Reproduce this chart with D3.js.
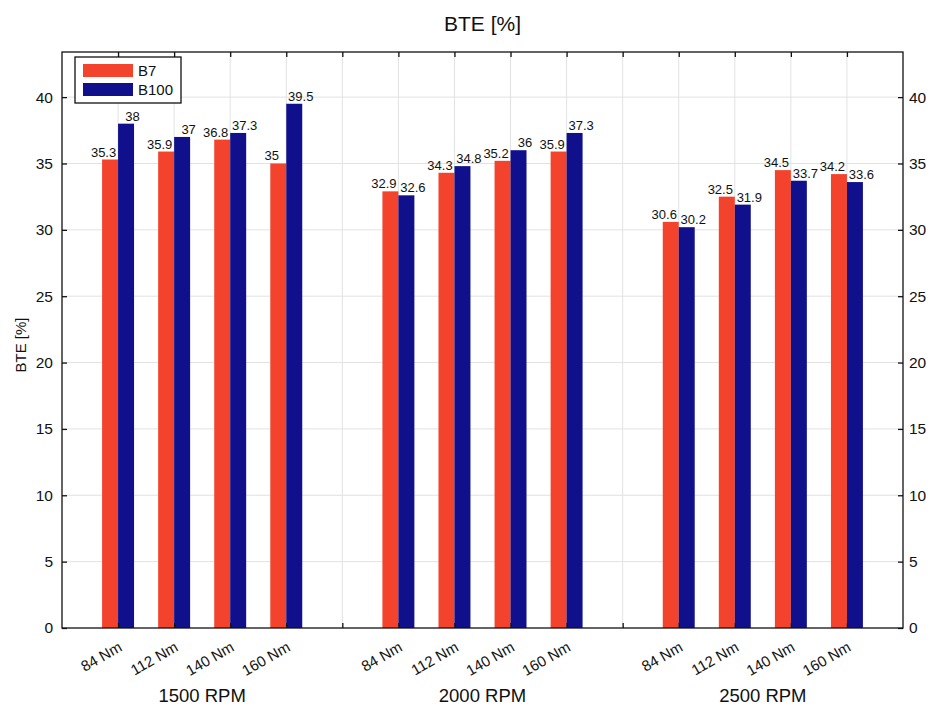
<!DOCTYPE html>
<html>
<head>
<meta charset="utf-8">
<script src="https://cdn.jsdelivr.net/npm/d3@7"></script>
<style>
  html, body { margin: 0; padding: 0; background: #fff; }
  svg { display: block; font-family: "Liberation Sans", Arial, Helvetica, sans-serif; }
</style>
</head>
<body>
<svg id="chart" width="933" height="706"></svg>
<script>
// Brake thermal efficiency per engine speed and load
const speeds = ["1500 RPM", "2000 RPM", "2500 RPM"];
const loads = ["84 Nm", "112 Nm", "140 Nm", "160 Nm"];
const seriesNames = ["B7", "B100"];
const b7 = [35.3, 35.9, 36.8, 35, 32.9, 34.3, 35.2, 35.9, 30.6, 32.5, 34.5, 34.2];
const b100 = [38, 37, 37.3, 39.5, 32.6, 34.8, 36, 37.3, 30.2, 31.9, 33.7, 33.6];
const yTicks = [0, 5, 10, 15, 20, 25, 30, 35, 40];
const colors = ["#f3432c", "#10108c"];

const m = { left: 62, right: 903, top: 52, bottom: 628 };
const svg = d3.select("#chart");

// Slots: four loads per speed, with one empty slot between speed groups
const rows = [];
speeds.forEach((s, g) => loads.forEach((l, i) => {
  const k = g * 4 + i;
  rows.push({ speed: s, load: l, slot: 1 + g * 5 + i, vals: [b7[k], b100[k]] });
}));
const allSlots = d3.range(1, 15);

const x = d3.scaleLinear().domain([0, 15]).range([m.left, m.right]);
const y = d3.scaleLinear().domain([0, 43.4]).range([m.bottom, m.top]);
const barW = 0.285;                 // bar width in slot units
const offsets = [-barW / 2, barW / 2];
const labelShift = [-6.5, 6.5];     // value labels pushed outward from the pair centre

// grid
const grid = svg.append("g").attr("stroke", "#e2e2e2").attr("stroke-width", 1);
grid.selectAll("line.h").data(yTicks.filter(d => d > 0)).join("line")
  .attr("x1", m.left).attr("x2", m.right)
  .attr("y1", d => y(d)).attr("y2", d => y(d));
grid.selectAll("line.v").data(allSlots).join("line")
  .attr("y1", m.top).attr("y2", m.bottom)
  .attr("x1", d => x(d)).attr("x2", d => x(d));

// bars with value labels
const barG = svg.append("g");
rows.forEach(r => {
  r.vals.forEach((v, s) => {
    const cx = r.slot + offsets[s];
    const x0 = x(cx - barW / 2), x1 = x(cx + barW / 2);
    barG.append("rect")
      .attr("x", x0).attr("width", x1 - x0)
      .attr("y", y(v)).attr("height", y(0) - y(v))
      .attr("fill", colors[s]);
    barG.append("text")
      .attr("x", x(cx) + labelShift[s]).attr("y", y(v) - 3)
      .attr("text-anchor", "middle")
      .attr("font-size", 13).attr("fill", "#111")
      .text(v);
  });
});

// axes box
svg.append("rect").attr("x", m.left).attr("y", m.top)
  .attr("width", m.right - m.left).attr("height", m.bottom - m.top)
  .attr("fill", "none").attr("stroke", "#111").attr("stroke-width", 1.3);

const tickLen = 5;
const axL = d3.axisLeft(y).tickValues(yTicks).tickSize(-tickLen).tickPadding(9);
const axR = d3.axisRight(y).tickValues(yTicks).tickSize(-tickLen).tickPadding(6);
const axB = d3.axisBottom(x).tickValues(allSlots).tickSize(-tickLen).tickFormat("");
const axT = d3.axisTop(x).tickValues(allSlots).tickSize(-tickLen).tickFormat("");

function style(g) {
  g.select(".domain").remove();
  g.selectAll(".tick line").attr("stroke", "#111").attr("stroke-width", 1.3);
  g.selectAll(".tick text").attr("font-size", 15.5).attr("fill", "#111")
    .attr("font-family", "Liberation Sans, Arial, sans-serif");
}
svg.append("g").attr("transform", `translate(${m.left},0)`).call(axL).call(style);
svg.append("g").attr("transform", `translate(${m.right},0)`).call(axR).call(style);
svg.append("g").attr("transform", `translate(0,${m.bottom})`).call(axB).call(style);
svg.append("g").attr("transform", `translate(0,${m.top})`).call(axT).call(style);

// rotated load labels
svg.append("g").selectAll("text").data(rows).join("text")
  .attr("transform", d => `translate(${x(d.slot) + 5},${m.bottom + 22}) rotate(-30)`)
  .attr("text-anchor", "end")
  .attr("font-size", 15).attr("fill", "#111")
  .text(d => d.load);

// speed group labels
svg.append("g").selectAll("text").data(speeds).join("text")
  .attr("x", (d, g) => x(1 + g * 5 + 1.5))
  .attr("y", 702)
  .attr("text-anchor", "middle")
  .attr("font-size", 18.5).attr("fill", "#111")
  .text(d => d);

// title and y label
svg.append("text").attr("x", x(7.5)).attr("y", 31)
  .attr("text-anchor", "middle").attr("font-size", 21).attr("fill", "#111")
  .text("BTE [%]");
svg.append("text").attr("transform", `translate(26,345) rotate(-90)`)
  .attr("text-anchor", "middle").attr("font-size", 15).attr("fill", "#111")
  .text("BTE [%]");

// legend
const lg = svg.append("g").attr("transform", "translate(75,57)");
lg.append("rect").attr("width", 106).attr("height", 46)
  .attr("fill", "#fff").attr("stroke", "#111").attr("stroke-width", 1.3);
seriesNames.forEach((n, i) => {
  lg.append("rect").attr("x", 8).attr("y", 7 + i * 19).attr("width", 50).attr("height", 13)
    .attr("fill", colors[i]);
  lg.append("text").attr("x", 63).attr("y", 19 + i * 19)
    .attr("font-size", 15).attr("fill", "#111").text(n);
});
</script>
</body>
</html>
